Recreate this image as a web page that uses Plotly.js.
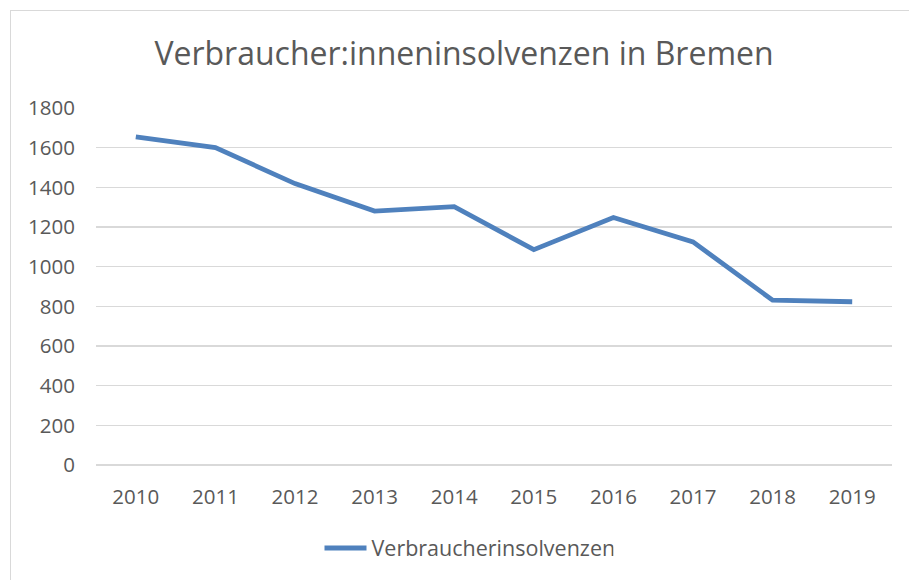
<!DOCTYPE html>
<html>
<head>
<meta charset="utf-8">
<script src="https://cdn.plot.ly/plotly-3.0.1.min.js"></script>
<style>
  html, body { margin: 0; padding: 0; background: #ffffff; }
  #frame { position: absolute; left: 10px; top: 10px; width: 1000px; height: 1000px; border-left: 1px solid #d9d9d9; border-top: 1px solid #d9d9d9; }
  #chart { position: absolute; left: 0; top: 0; width: 909px; height: 580px; }
</style>
</head>
<body>
<div id="frame"></div>
<div id="chart"></div>
<script>
const years = ['2010', '2011', '2012', '2013', '2014', '2015', '2016', '2017', '2018', '2019'];
const insolvencies = [1655, 1600, 1419, 1280, 1303, 1086, 1248, 1125, 831, 823];
const seriesName = 'Verbraucherinsolvenzen';
const chartTitle = 'Verbraucher:inneninsolvenzen in Bremen';
const yTicks = [0, 200, 400, 600, 800, 1000, 1200, 1400, 1600, 1800];

const font = '"Open Sans", "Liberation Sans", sans-serif';
const textColor = '#595959';
const lineColor = '#4f81bd';

const trace = {
  x: years,
  y: insolvencies,
  name: seriesName,
  type: 'scatter',
  mode: 'lines',
  line: { color: lineColor, width: 4.8 },
  showlegend: true
};

const layout = {
  width: 909,
  height: 580,
  paper_bgcolor: 'rgba(0,0,0,0)',
  plot_bgcolor: 'rgba(0,0,0,0)',
  margin: { l: 96, r: 17, t: 108, b: 115, autoexpand: false },
  font: { family: font, color: textColor, size: 20.5 },
  title: {
    text: chartTitle,
    font: { family: font, size: 32, color: textColor },
    x: 464 / 909,
    xref: 'container',
    xanchor: 'center',
    y: 1 - 54 / 580,
    yref: 'container',
    yanchor: 'middle'
  },
  xaxis: {
    type: 'category',
    range: [-0.5, years.length - 0.5],
    tickangle: 0,
    showgrid: false,
    zeroline: false,
    showline: false,
    ticks: '',
    ticklabelstandoff: 17,
    tickfont: { family: font, size: 20.5, color: textColor },
    fixedrange: true
  },
  yaxis: {
    range: [0, 1800],
    tickvals: yTicks,
    ticktext: yTicks.map(String),
    showgrid: true,
    gridcolor: '#d9d9d9',
    gridwidth: 1.5,
    zeroline: true,
    zerolinecolor: '#d9d9d9',
    zerolinewidth: 1.5,
    showline: false,
    ticks: '',
    ticklabelstandoff: 20,
    tickfont: { family: font, size: 20.5, color: textColor },
    fixedrange: true
  },
  legend: {
    orientation: 'h',
    x: (469 - 96) / 796,
    xref: 'paper',
    xanchor: 'center',
    y: (465 - 548) / 357,
    yanchor: 'middle',
    font: { family: font, size: 21.5, color: textColor },
    itemwidth: 30,
    bgcolor: 'rgba(0,0,0,0)'
  },
  showlegend: true
};

Plotly.newPlot('chart', [trace], layout, { displayModeBar: false, staticPlot: true }).then(function (gd) {
  // Lengthen the legend line sample to match the reference's longer key
  const path = gd.querySelector('.legend .legendlines path');
  const text = gd.querySelector('.legend .legendtext');
  if (path && text) {
    path.setAttribute('d', 'M-14,0h56');
    text.setAttribute('x', '47');
  }
});
</script>
</body>
</html>
